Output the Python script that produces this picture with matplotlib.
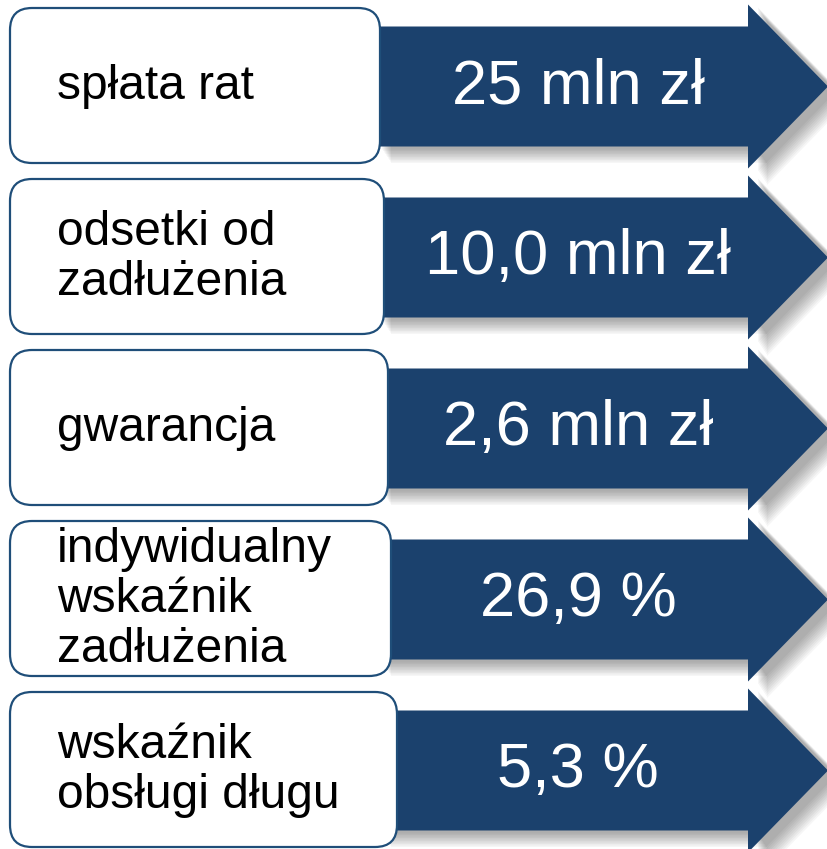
import matplotlib
matplotlib.use("Agg")
import matplotlib.pyplot as plt
from matplotlib.patches import FancyBboxPatch, Polygon

labels = ["spłata rat", "odsetki od\nzadłużenia", "gwarancja",
          "indywidualny\nwskaźnik\nzadłużenia", "wskaźnik\nobsługi długu"]
values = ["25 mln zł", "10,0 mln zł", "2,6 mln zł", "26,9 %", "5,3 %"]

W, H = 828, 849
fig = plt.figure(figsize=(W / 100, H / 100), dpi=100)
ax = fig.add_axes([0, 0, 1, 1])
ax.set_xlim(0, W)
ax.set_ylim(H, 0)
ax.axis("off")

navy = "#1b416d"
edge = "#1f4e79"
font = "Liberation Sans"

box_right = [380, 384, 388, 391, 397]
pitch = 171
top0 = 8
bh = 155

for i, (lab, val) in enumerate(zip(labels, values)):
    top = top0 + pitch * i
    cy = top + bh / 2 + 1
    # arrow
    x0, xb, xt = 372, 748, 828
    body_half = 60
    head_half = 82
    pts = [(x0, cy - body_half), (xb, cy - body_half), (xb, cy - head_half),
           (xt, cy), (xb, cy + head_half), (xb, cy + body_half), (x0, cy + body_half)]
    # shadow
    for k in range(10):
        off = 3 + k * 1.5
        sp = [(x + 10 + k, y + off) for x, y in pts]
        ax.add_patch(Polygon(sp, closed=True, facecolor="#000000", edgecolor="none",
                             alpha=0.035, zorder=1))
    ax.add_patch(Polygon(pts, closed=True, facecolor=navy, edgecolor="none", zorder=2))
    # box
    r = 22
    bx = FancyBboxPatch((10 + r, top + r), box_right[i] - 10 - 2 * r, bh - 2 * r,
                        boxstyle=f"round,pad={r}", facecolor="white", edgecolor=edge,
                        linewidth=1.6, zorder=3)
    ax.add_patch(bx)
    ax.text(57, cy, lab, fontsize=34.5, family=font, color="black", ha="left",
            va="center", linespacing=1.13, zorder=4)
    ax.text(578, cy, val, fontsize=45.5, family=font, color="white", ha="center",
            va="center", zorder=4)

fig.savefig("out.png", dpi=100, facecolor="white")
